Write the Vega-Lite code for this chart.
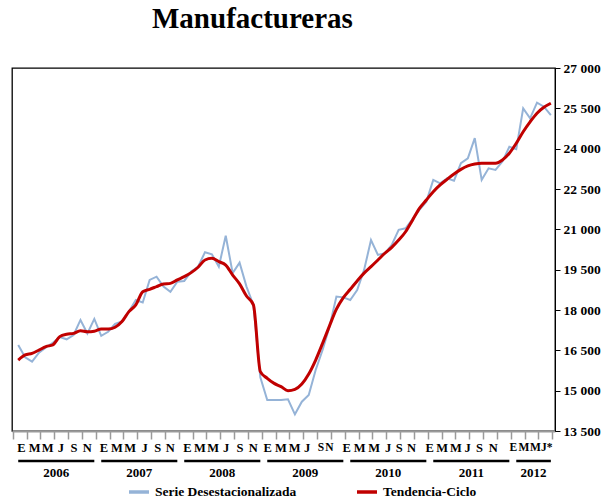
{
  "$schema": "https://vega.github.io/schema/vega-lite/v6.json",
  "padding": {"left": 11, "top": 5, "right": 5, "bottom": 0},
  "autosize": {"type": "pad"},
  "title": {"text": "Manufactureras", "font": "Liberation Serif", "fontSize": 29, "fontWeight": "bold", "color": "#000000", "anchor": "start", "frame": "group", "dx": 140, "offset": 26},
  "datasets": {
    "serie": [
      {"fecha": "2006-01", "mes": 0, "desest": 16700, "tendencia": 16140},
      {"fecha": "2006-02", "mes": 1, "desest": 16240, "tendencia": 16330},
      {"fecha": "2006-03", "mes": 2, "desest": 16080, "tendencia": 16390},
      {"fecha": "2006-04", "mes": 3, "desest": 16410, "tendencia": 16510},
      {"fecha": "2006-05", "mes": 4, "desest": 16610, "tendencia": 16640},
      {"fecha": "2006-06", "mes": 5, "desest": 16780, "tendencia": 16700},
      {"fecha": "2006-07", "mes": 6, "desest": 16990, "tendencia": 17010},
      {"fecha": "2006-08", "mes": 7, "desest": 16910, "tendencia": 17100},
      {"fecha": "2006-09", "mes": 8, "desest": 17070, "tendencia": 17130},
      {"fecha": "2006-10", "mes": 9, "desest": 17630, "tendencia": 17230},
      {"fecha": "2006-11", "mes": 10, "desest": 17130, "tendencia": 17190},
      {"fecha": "2006-12", "mes": 11, "desest": 17670, "tendencia": 17210},
      {"fecha": "2007-01", "mes": 12, "desest": 17040, "tendencia": 17290},
      {"fecha": "2007-02", "mes": 13, "desest": 17190, "tendencia": 17290},
      {"fecha": "2007-03", "mes": 14, "desest": 17480, "tendencia": 17360},
      {"fecha": "2007-04", "mes": 15, "desest": 17570, "tendencia": 17570},
      {"fecha": "2007-05", "mes": 16, "desest": 17940, "tendencia": 17940},
      {"fecha": "2007-06", "mes": 17, "desest": 18370, "tendencia": 18190},
      {"fecha": "2007-07", "mes": 18, "desest": 18280, "tendencia": 18680},
      {"fecha": "2007-08", "mes": 19, "desest": 19120, "tendencia": 18770},
      {"fecha": "2007-09", "mes": 20, "desest": 19240, "tendencia": 18870},
      {"fecha": "2007-10", "mes": 21, "desest": 18870, "tendencia": 18970},
      {"fecha": "2007-11", "mes": 22, "desest": 18680, "tendencia": 18990},
      {"fecha": "2007-12", "mes": 23, "desest": 19050, "tendencia": 19120},
      {"fecha": "2008-01", "mes": 24, "desest": 19080, "tendencia": 19240},
      {"fecha": "2008-02", "mes": 25, "desest": 19430, "tendencia": 19390},
      {"fecha": "2008-03", "mes": 26, "desest": 19610, "tendencia": 19590},
      {"fecha": "2008-04", "mes": 27, "desest": 20150, "tendencia": 19860},
      {"fecha": "2008-05", "mes": 28, "desest": 20070, "tendencia": 19920},
      {"fecha": "2008-06", "mes": 29, "desest": 19610, "tendencia": 19800},
      {"fecha": "2008-07", "mes": 30, "desest": 20760, "tendencia": 19670},
      {"fecha": "2008-08", "mes": 31, "desest": 19370, "tendencia": 19300},
      {"fecha": "2008-09", "mes": 32, "desest": 19760, "tendencia": 18970},
      {"fecha": "2008-10", "mes": 33, "desest": 18870, "tendencia": 18520},
      {"fecha": "2008-11", "mes": 34, "desest": 18190, "tendencia": 18190},
      {"fecha": "2008-12", "mes": 35, "desest": 15500, "tendencia": 15710},
      {"fecha": "2009-01", "mes": 36, "desest": 14650, "tendencia": 15460},
      {"fecha": "2009-02", "mes": 37, "desest": 14650, "tendencia": 15270},
      {"fecha": "2009-03", "mes": 38, "desest": 14650, "tendencia": 15150},
      {"fecha": "2009-04", "mes": 39, "desest": 14680, "tendencia": 15000},
      {"fecha": "2009-05", "mes": 40, "desest": 14120, "tendencia": 15050},
      {"fecha": "2009-06", "mes": 41, "desest": 14590, "tendencia": 15250},
      {"fecha": "2009-07", "mes": 42, "desest": 14840, "tendencia": 15620},
      {"fecha": "2009-08", "mes": 43, "desest": 15770, "tendencia": 16140},
      {"fecha": "2009-09", "mes": 44, "desest": 16510, "tendencia": 16760},
      {"fecha": "2009-10", "mes": 45, "desest": 17380, "tendencia": 17410},
      {"fecha": "2009-11", "mes": 46, "desest": 18500, "tendencia": 18030},
      {"fecha": "2009-12", "mes": 47, "desest": 18470, "tendencia": 18460},
      {"fecha": "2010-01", "mes": 48, "desest": 18370, "tendencia": 18770},
      {"fecha": "2010-02", "mes": 49, "desest": 18740, "tendencia": 19080},
      {"fecha": "2010-03", "mes": 50, "desest": 19490, "tendencia": 19370},
      {"fecha": "2010-04", "mes": 51, "desest": 20600, "tendencia": 19610},
      {"fecha": "2010-05", "mes": 52, "desest": 20050, "tendencia": 19860},
      {"fecha": "2010-06", "mes": 53, "desest": 20110, "tendencia": 20110},
      {"fecha": "2010-07", "mes": 54, "desest": 20420, "tendencia": 20330},
      {"fecha": "2010-08", "mes": 55, "desest": 20980, "tendencia": 20600},
      {"fecha": "2010-09", "mes": 56, "desest": 21040, "tendencia": 20910},
      {"fecha": "2010-10", "mes": 57, "desest": 21380, "tendencia": 21340},
      {"fecha": "2010-11", "mes": 58, "desest": 21720, "tendencia": 21780},
      {"fecha": "2010-12", "mes": 59, "desest": 22030, "tendencia": 22090},
      {"fecha": "2011-01", "mes": 60, "desest": 22840, "tendencia": 22400},
      {"fecha": "2011-02", "mes": 61, "desest": 22710, "tendencia": 22650},
      {"fecha": "2011-03", "mes": 62, "desest": 22900, "tendencia": 22860},
      {"fecha": "2011-04", "mes": 63, "desest": 22810, "tendencia": 23060},
      {"fecha": "2011-05", "mes": 64, "desest": 23460, "tendencia": 23230},
      {"fecha": "2011-06", "mes": 65, "desest": 23640, "tendencia": 23360},
      {"fecha": "2011-07", "mes": 66, "desest": 24390, "tendencia": 23430},
      {"fecha": "2011-08", "mes": 67, "desest": 22840, "tendencia": 23460},
      {"fecha": "2011-09", "mes": 68, "desest": 23270, "tendencia": 23460},
      {"fecha": "2011-10", "mes": 69, "desest": 23210, "tendencia": 23460},
      {"fecha": "2011-11", "mes": 70, "desest": 23520, "tendencia": 23580},
      {"fecha": "2011-12", "mes": 71, "desest": 24070, "tendencia": 23830},
      {"fecha": "2012-01", "mes": 72, "desest": 23980, "tendencia": 24200},
      {"fecha": "2012-02", "mes": 73, "desest": 25500, "tendencia": 24630},
      {"fecha": "2012-03", "mes": 74, "desest": 25130, "tendencia": 25000},
      {"fecha": "2012-04", "mes": 75, "desest": 25710, "tendencia": 25320},
      {"fecha": "2012-05", "mes": 76, "desest": 25560, "tendencia": 25540},
      {"fecha": "2012-06", "mes": 77, "desest": 25250, "tendencia": 25690}
    ],
    "anios": [
      {"anio": "2006", "inicio": 0, "fin": 11},
      {"anio": "2007", "inicio": 12, "fin": 23},
      {"anio": "2008", "inicio": 24, "fin": 35},
      {"anio": "2009", "inicio": 36, "fin": 47},
      {"anio": "2010", "inicio": 48, "fin": 59},
      {"anio": "2011", "inicio": 60, "fin": 71},
      {"anio": "2012", "inicio": 72, "fin": 77}
    ]
  },
  "spacing": 0,
  "vconcat": [
    {
      "width": 543,
      "height": 363,
      "data": {"name": "serie"},
      "layer": [
        {
          "mark": {"type": "line", "strokeWidth": 2, "color": "#95B3D7"},
          "encoding": {
            "x": {"field": "mes", "type": "quantitative",
                  "scale": {"domain": [-0.9, 77.6], "nice": false, "zero": false},
                  "axis": {"orient": "bottom", "title": null, "grid": false, "labels": false,
                           "values": [-0.8, 1.2, 3.2, 5.2, 7.2, 9.2, 11.2, 13.2, 15.2, 17.2, 19.2, 21.2, 23.2, 25.2, 27.2, 29.2, 31.2, 33.2, 35.2, 37.2, 39.2, 41.2, 43.2, 45.2, 47.2, 49.2, 51.2, 53.2, 55.2, 57.2, 59.2, 61.2, 63.2, 65.2, 67.2, 69.2, 71.2, 73.2, 75.2, 77.2],
                           "domainColor": "#9a9a9a", "domainWidth": 2, "tickColor": "#9a9a9a", "tickWidth": 1.5, "tickSize": 8}},
            "y": {"field": "desest", "type": "quantitative",
                  "scale": {"domain": [13500, 27000], "nice": false, "zero": false},
                  "axis": {"orient": "right", "title": null, "grid": false,
                           "values": [13500, 15000, 16500, 18000, 19500, 21000, 22500, 24000, 25500, 27000],
                           "labelExpr": "replace(format(datum.value, ','), ',', ' ')",
                           "domainColor": "#000000", "tickColor": "#000000", "tickSize": 5, "labelPadding": 3}},
            "color": {"datum": "Serie Desestacionalizada",
                      "scale": {"domain": ["Serie Desestacionalizada", "Tendencia-Ciclo"], "range": ["#95B3D7", "#C00000"]},
                      "legend": {"orient": "none", "legendX": 115, "legendY": 412, "direction": "horizontal", "title": null, "columns": 2,
                                 "columnPadding": 53, "symbolType": "stroke", "symbolSize": 400, "symbolStrokeWidth": 3.5,
                                 "labelFont": "Liberation Serif", "labelFontWeight": "bold", "labelFontSize": 13.5, "labelColor": "#000000",
                                 "padding": 0, "labelOffset": 4}}
          }
        },
        {
          "mark": {"type": "line", "strokeWidth": 3, "color": "#C00000", "interpolate": "monotone"},
          "encoding": {
            "x": {"field": "mes", "type": "quantitative",
                  "axis": {"orient": "bottom", "title": null, "grid": false, "ticks": false, "domain": false,
                           "values": [0.4, 2.3, 4.2, 6.1, 8, 9.9, 12.3, 14.2, 16.1, 18.2, 20.1, 21.9, 24.4, 26.2, 28.1, 30, 32, 33.9, 36, 37.9, 39.9, 41.7, 43.7, 44.9, 47.4, 49.3, 51.4, 53.4, 55, 56.8, 59.4, 61.2, 63.2, 64.9, 66.6, 68.6, 71.5, 73.05, 74.7, 76.35],
                           "labelExpr": "datum.value > 71 ? (datum.value < 72.3 ? 'E' : (datum.value < 75.2 ? 'M' : 'J*')) : ((datum.value - 12 * floor((datum.value + 1) / 12)) < 0.9 ? 'E' : ((datum.value - 12 * floor((datum.value + 1) / 12)) < 4.55 ? 'M' : ((datum.value - 12 * floor((datum.value + 1) / 12)) < 6.3 ? 'J' : ((datum.value - 12 * floor((datum.value + 1) / 12)) < 8.35 ? 'S' : 'N'))))",
                           "labelOverlap": false, "labelPadding": 10,
                           "labelFontSize": {"condition": {"test": "datum.value > 71 || (datum.value > 43 && datum.value < 45)", "value": 11.5}, "value": 12.5}}},
            "y": {"field": "tendencia", "type": "quantitative"},
            "color": {"datum": "Tendencia-Ciclo"}
          }
        }
      ],
      "resolve": {"axis": {"x": "independent"}}
    },
    {
      "width": 543,
      "height": 24,
      "view": {"stroke": null},
      "data": {"name": "anios"},
      "transform": [{"calculate": "(datum.inicio + datum.fin) / 2", "as": "medio"}],
      "layer": [
        {
          "mark": {"type": "rule", "color": "#000000", "strokeWidth": 2.5},
          "encoding": {
            "x": {"field": "inicio", "type": "quantitative", "scale": {"domain": [-0.9, 77.6], "nice": false, "zero": false}, "axis": null},
            "x2": {"field": "fin"},
            "y": {"datum": "linea", "type": "nominal", "scale": {"domain": ["linea", "anio"]}, "axis": null}
          }
        },
        {
          "mark": {"type": "text", "font": "Liberation Serif", "fontWeight": "bold", "fontSize": 13, "color": "#000000"},
          "encoding": {
            "x": {"field": "medio", "type": "quantitative", "axis": null},
            "y": {"datum": "anio", "type": "nominal"},
            "text": {"field": "anio"}
          }
        }
      ]
    }
  ],
  "config": {
    "view": {"stroke": "#000000", "strokeWidth": 1.3},
    "axis": {"labelFont": "Liberation Serif", "labelFontWeight": "bold", "labelFontSize": 13.5, "labelColor": "#000000"}
  }
}
